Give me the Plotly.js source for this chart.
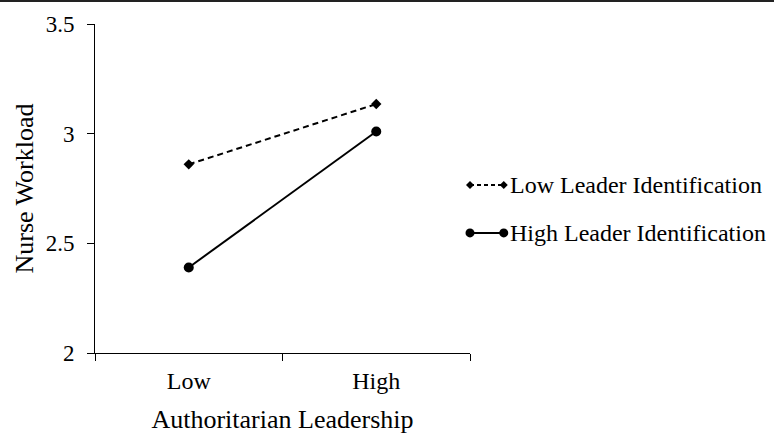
<!DOCTYPE html>
<html>
<head>
<meta charset="utf-8">
<script src="https://cdn.plot.ly/plotly-3.0.1.min.js"></script>
<style>
  html, body { margin: 0; padding: 0; background: #fff; }
  #wrap { position: relative; width: 774px; height: 436px; }
  #chart { width: 774px; height: 436px; }
  #topline { position: absolute; left: 0; top: 0; width: 774px; height: 2px; background: #222; z-index: 10; }
</style>
</head>
<body>
<div id="wrap">
  <div id="topline"></div>
  <div id="chart"></div>
</div>
<script>
const categories = ["Low", "High"];
const seriesNames = ["Low Leader Identification", "High Leader Identification"];
const lowLeaderId = [2.86, 3.135];
const highLeaderId = [2.39, 3.01];
const yTickVals = [2, 2.5, 3, 3.5];
const yTickText = ["2", "2.5", "3", "3.5"];

const FONT = "Liberation Serif, Times New Roman, serif";

const traces = [
  {
    x: categories, y: lowLeaderId, name: seriesNames[0], type: "scatter", mode: "lines+markers",
    line: { color: "#000", width: 2, dash: "6px,4px" },
    marker: { symbol: "diamond", size: 8, color: "#000" }
  },
  {
    x: categories, y: highLeaderId, name: seriesNames[1], type: "scatter", mode: "lines+markers",
    line: { color: "#000", width: 2 },
    marker: { symbol: "circle", size: 10, color: "#000" }
  }
];

// Custom legend (paper coordinates): line with a marker at each end, then the label
const legX0 = 1.0, legX1 = 1.09, legTextX = 1.1;
const legY = [0.511, 0.365];
const legDash = ["4px,3px", "solid"];
const shapes = [];
const annotations = [];
legY.forEach((y, i) => {
  shapes.push({ type: "line", xref: "paper", yref: "paper", x0: legX0, x1: legX1, y0: y, y1: y,
    line: { color: "#000", width: 2, dash: legDash[i] } });
  [legX0, legX1].forEach(xa => {
    if (i === 0) {
      shapes.push({ type: "path", xref: "paper", yref: "paper", xsizemode: "pixel", ysizemode: "pixel",
        xanchor: xa, yanchor: y, path: "M0,4L4,0L0,-4L-4,0Z",
        fillcolor: "#000", line: { color: "#000", width: 0 } });
    } else {
      shapes.push({ type: "circle", xref: "paper", yref: "paper", xsizemode: "pixel", ysizemode: "pixel",
        xanchor: xa, yanchor: y, x0: -4.5, x1: 4.5, y0: -4.5, y1: 4.5,
        fillcolor: "#000", line: { color: "#000", width: 0 } });
    }
  });
  annotations.push({ xref: "paper", yref: "paper", x: legTextX, y: y, xanchor: "left", yanchor: "middle",
    text: seriesNames[i], showarrow: false, font: { family: FONT, size: 24, color: "#000" } });
});

const layout = {
  width: 774, height: 436,
  margin: { l: 95, r: 304, t: 24, b: 83 },
  paper_bgcolor: "#fff", plot_bgcolor: "#fff",
  font: { family: FONT, color: "#000", size: 24 },
  showlegend: false,
  shapes: shapes,
  annotations: annotations,
  xaxis: {
    type: "category", range: [-0.5, 1.5],
    tickson: "boundaries", ticks: "outside", ticklen: 7, tickwidth: 1, tickcolor: "#000",
    showline: true, linecolor: "#000", linewidth: 1,
    showgrid: false, zeroline: false,
    ticklabelstandoff: 6,
    tickfont: { family: FONT, size: 24, color: "#000" },
    title: { text: "Authoritarian Leadership", font: { family: FONT, size: 26, color: "#000" }, standoff: 17 }
  },
  yaxis: {
    range: [2, 3.5], tickvals: yTickVals, ticktext: yTickText,
    ticks: "outside", ticklen: 7, tickwidth: 1, tickcolor: "#000",
    showline: true, linecolor: "#000", linewidth: 1,
    showgrid: false, zeroline: false,
    ticklabelstandoff: 8,
    tickfont: { family: FONT, size: 23, color: "#000" },
    title: { text: "Nurse Workload", font: { family: FONT, size: 26, color: "#000" }, standoff: 4 }
  }
};

Plotly.newPlot("chart", traces, layout, { displayModeBar: false, staticPlot: true });
</script>
</body>
</html>
